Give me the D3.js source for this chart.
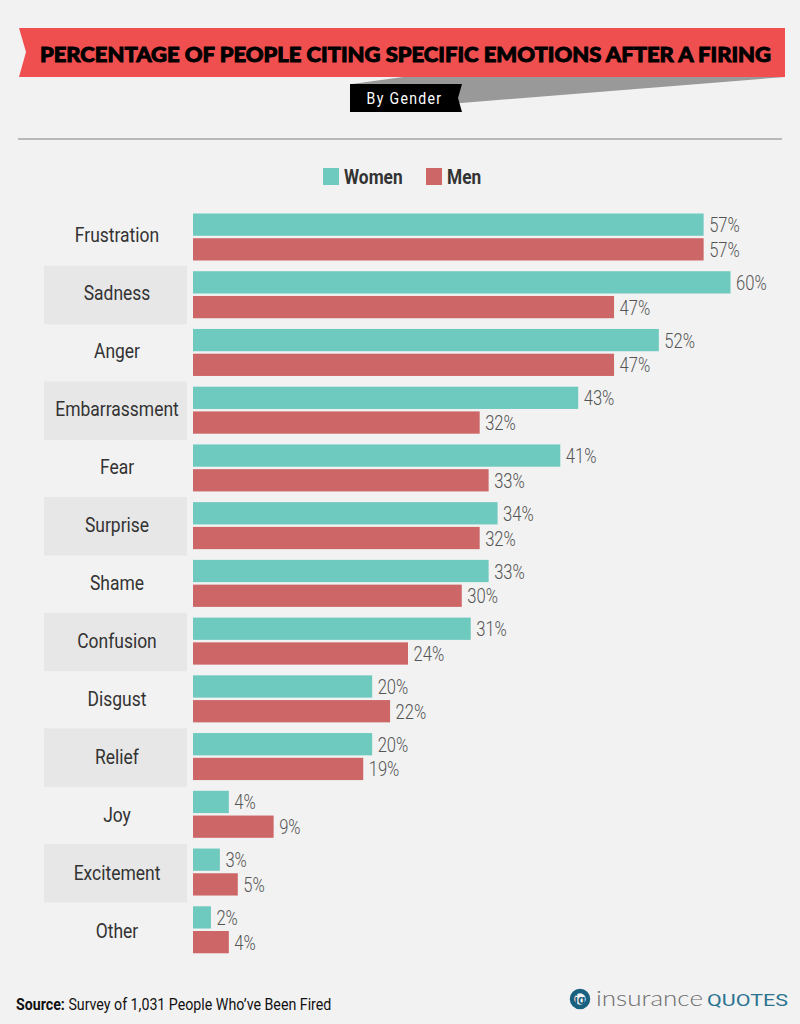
<!DOCTYPE html>
<html>
<head>
  <title>Percentage of People Citing Specific Emotions After a Firing</title>
  <script src="https://d3js.org/d3.v7.min.js"></script>
  <style>
    html, body { margin: 0; padding: 0; background: #f2f2f2; }
    svg { display: block; }
    text { font-family: Roboto, sans-serif; }
  </style>
</head>
<body>
  <div id="chart"></div>

  <script>
    var emotions = ['Frustration', 'Sadness', 'Anger', 'Embarrassment', 'Fear', 'Surprise', 'Shame',
      'Confusion', 'Disgust', 'Relief', 'Joy', 'Excitement', 'Other'];
    var women = [57, 60, 52, 43, 41, 34, 33, 31, 20, 20, 4, 3, 2];
    var men = [57, 47, 47, 32, 33, 32, 30, 24, 22, 19, 9, 5, 4];
    var seriesNames = ['Women', 'Men'];
    var seriesColors = ['#6ec9be', '#cd6666'];

    var svg = d3.select('#chart').append('svg')
      .attr('width', 800)
      .attr('height', 1024);

    svg.append('rect').attr('width', 800).attr('height', 1024).attr('fill', '#f2f2f2');

    // Roboto Condensed is not installed, so squeeze regular Roboto
    function label(parent, x, y, str, size, color, anchor, squeeze, weight) {
      return parent.append('text')
        .attr('transform', 'translate(' + x + ',' + y + ') scale(' + squeeze + ',1)')
        .attr('text-anchor', anchor)
        .attr('font-size', size)
        .attr('font-weight', weight || 400)
        .attr('fill', color)
        .text(str);
    }

    // Title ribbon
    svg.append('polygon').attr('points', '352,84 403,77 785,77 461,103 352,103').attr('fill', '#999999');
    svg.append('polygon').attr('points', '19,28 785,28 785,77 19,77 26,52').attr('fill', '#f04f50');
    svg.append('text')
      .attr('x', 40)
      .attr('y', 62)
      .attr('textLength', 731)
      .attr('lengthAdjust', 'spacingAndGlyphs')
      .attr('font-size', 20.5)
      .attr('font-weight', 900)
      .attr('stroke', '#000')
      .attr('stroke-width', 0.9)
      .style('font-family', 'Lato, sans-serif')
      .text('PERCENTAGE OF PEOPLE CITING SPECIFIC EMOTIONS AFTER A FIRING');

    svg.append('polygon').attr('points', '350,84 462,84 458,98 462,112 350,112').attr('fill', '#000');
    label(svg, 404.5, 104, 'By Gender', 16, '#fff', 'middle', 0.88).attr('letter-spacing', 1.5);

    svg.append('line')
      .attr('x1', 18).attr('x2', 782).attr('y1', 139).attr('y2', 139)
      .attr('stroke', '#808080').attr('stroke-width', 1.2);

    // Legend
    var legendX = [323, 426];
    seriesNames.forEach(function(name, i) {
      svg.append('rect')
        .attr('x', legendX[i]).attr('y', 168)
        .attr('width', 16).attr('height', 17)
        .attr('fill', seriesColors[i]);
      label(svg, legendX[i] + 21, 184, name, 20, '#333333', 'start', 0.865, 700);
    });

    // Scales
    var x = d3.scaleLinear().domain([0, 60]).range([193, 730.5]);
    var row = d3.scaleBand().domain(emotions).range([208.5, 959]);
    var stripeRow = d3.scaleBand().domain(emotions).range([208, 959.6]);
    var labelRow = d3.scaleBand().domain(emotions).range([208, 962]);
    var inner = d3.scaleBand().domain(seriesNames).range([5, 52]).paddingInner(0.1);

    // Every other row gets a grey band behind the label
    svg.selectAll('.stripe')
      .data(emotions.filter(function(d, i) { return i % 2 === 1; }))
      .enter()
      .append('rect')
      .attr('class', 'stripe')
      .attr('x', 44)
      .attr('y', function(d) { return stripeRow(d); })
      .attr('width', 143)
      .attr('height', 58.5)
      .attr('fill', '#e7e7e7');

    emotions.forEach(function(d) {
      label(svg, 117, labelRow(d) + 34, d, 20, '#333333', 'middle', 0.874);
    });

    var rows = svg.selectAll('.row')
      .data(emotions)
      .enter()
      .append('g')
      .attr('class', 'row')
      .attr('transform', function(d) { return 'translate(0,' + row(d) + ')'; });

    rows.each(function(d, i) {
      var g = d3.select(this);

      [women[i], men[i]].forEach(function(v, s) {
        var y = inner(seriesNames[s]);
        g.append('rect')
          .attr('x', x(0))
          .attr('y', y)
          .attr('width', x(v) - x(0))
          .attr('height', inner.bandwidth())
          .attr('fill', seriesColors[s]);
        label(g, x(v) + 5.5, y + inner.bandwidth() / 2 + 7.5, v + '%', 20, '#555555', 'start', 0.83, 300);
      });
    });

    // Footer
    var source = svg.append('text')
      .attr('transform', 'translate(16,1010) scale(0.888,1)')
      .attr('font-size', 16)
      .attr('fill', '#111');
    source.append('tspan').attr('font-weight', 700).text('Source:');
    source.append('tspan').text(' Survey of 1,031 People Who\u2019ve Been Fired');

    // Logo
    svg.append('circle').attr('cx', 580).attr('cy', 999).attr('r', 8).attr('fill', 'none')
      .attr('stroke', '#17607f').attr('stroke-width', 4.5);
    svg.append('text').attr('x', 580).attr('y', 1004).attr('text-anchor', 'middle')
      .attr('font-size', 13).attr('font-weight', 700).attr('fill', '#17607f').text('iq');
    svg.append('text')
      .attr('x', 596).attr('y', 1006)
      .attr('textLength', 107).attr('lengthAdjust', 'spacingAndGlyphs')
      .attr('font-size', 22).attr('font-weight', 300).attr('fill', '#6e6e6e')
      .style('font-family', 'Lato, sans-serif')
      .text('insurance');
    svg.append('text')
      .attr('x', 707).attr('y', 1006)
      .attr('textLength', 81).attr('lengthAdjust', 'spacingAndGlyphs')
      .attr('font-size', 16).attr('font-weight', 400).attr('fill', '#2b7391')
      .text('QUOTES');
  </script>
</body>
</html>
